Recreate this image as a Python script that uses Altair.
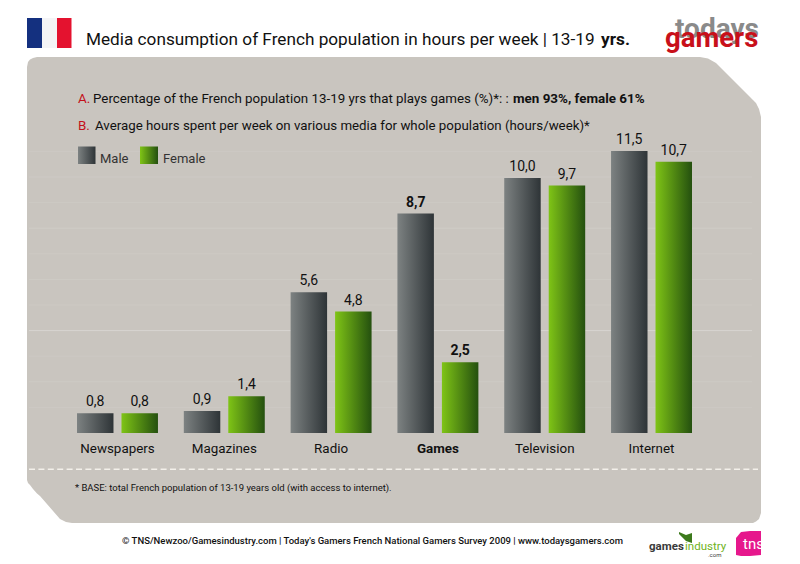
import altair as alt
import pandas as pd

FONT = "Roboto"

categories = ["Newspapers", "Magazines", "Radio", "Games", "Television", "Internet"]
male_labels = ["0,8", "0,9", "5,6", "8,7", "10,0", "11,5"]
female_labels = ["0,8", "1,4", "4,8", "2,5", "9,7", "10,7"]
# Drawn bar lengths (the original artwork is not strictly proportional to its labels)
male_lengths = [0.81, 0.90, 5.74, 8.95, 10.40, 11.50]
female_lengths = [0.81, 1.50, 4.95, 2.89, 10.09, 11.06]

panel_x = [27, 28, 30, 33, 37, 40, 60, 66, 72, 700, 708, 716, 750, 753, 756, 759, 761]
panel_top = [67, 62, 59.5, 58, 57, 57, 57, 57, 57, 57, 58.5, 63, 97, 100, 103, 109, 117]
panel_bottom = [480, 483, 485, 489, 493.5, 496, 519, 522, 523, 523, 523, 523, 523, 523, 521.5, 519, 513]

grid_y = [151.4, 177, 202.6, 228.2, 253.8, 279.4, 305, 330.6, 356.2, 381.8, 407.4]
grid_alpha = [0.08, 0.1, 0.08, 0.13, 0.08, 0.1, 0.08, 0.28, 0.08, 0.1, 0.08]

rows = []
for i, c in enumerate(categories):
    rows.append({"cat": c, "gender": "Male", "len": male_lengths[i], "label": male_labels[i]})
    rows.append({"cat": c, "gender": "Female", "len": female_lengths[i], "label": female_labels[i]})
df = pd.DataFrame(rows)

GRAY = alt.Gradient(gradient="linear", x1=0, x2=1, y1=0, y2=0,
                    stops=[alt.GradientStop(color="#7d8282", offset=0), alt.GradientStop(color="#2e3437", offset=1)])
GREEN = alt.Gradient(gradient="linear", x1=0, x2=1, y1=0, y2=0,
                     stops=[alt.GradientStop(color="#7fc416", offset=0), alt.GradientStop(color="#24500f", offset=1)])

px = alt.Scale(domain=[8, 792], range=[0, 784])
py = alt.Scale(domain=[8, 556], range=[0, 548])


def shape(xs, tops, bottoms, color):
    d = pd.DataFrame({"x": xs, "t": tops, "b": bottoms})
    return alt.Chart(d).mark_area(color=color, interpolate="linear").encode(
        x=alt.X("x:Q", scale=px, axis=None),
        y=alt.Y("t:Q", scale=py, axis=None),
        y2="b:Q",
    )


def rect(x0, x1, y0, y1, color):
    return alt.Chart(alt.Data(values=[{}])).mark_rect(color=color).encode(
        x=alt.value(x0 - 8), x2=alt.value(x1 - 8), y=alt.value(y0 - 8), y2=alt.value(y1 - 8))


def txt(s, x, y, size, color="#111111", weight="normal", align="left", font=FONT):
    return alt.Chart(alt.Data(values=[{"t": s}])).mark_text(
        align=align, baseline="alphabetic", fontSize=size, color=color, fontWeight=weight, font=font
    ).encode(x=alt.value(x - 8), y=alt.value(y - 8), text="t:N")


panel = shape(panel_x, panel_top, panel_bottom, "#c9c5bf")

grid = alt.Chart(pd.DataFrame({"y": grid_y, "a": grid_alpha})).mark_rule(color="#ffffff", strokeWidth=1).encode(
    y=alt.Y("y:Q", scale=py, axis=None),
    x=alt.value(21), x2=alt.value(744),
    opacity=alt.Opacity("a:Q", scale=None),
)

dash = alt.Chart(alt.Data(values=[{}])).mark_rule(color="#f3f0ea", strokeWidth=1.6, strokeDash=[6, 3.4]).encode(
    x=alt.value(21), x2=alt.value(750), y=alt.value(461.3))

x_enc = alt.X("cat:N", sort=categories,
              scale=alt.Scale(domain=categories, range=[69, 684], paddingInner=0.242, paddingOuter=0),
              axis=alt.Axis(title=None, domain=False, ticks=False, grid=False, labelAngle=0, labelPadding=0,
                            labelFont=FONT, labelFontSize=13.4, labelColor="#111111", labelBaseline="alphabetic",
                            labelFontWeight=alt.expr("datum.value === 'Games' ? 'bold' : 'normal'"),
                            offset=-108, zindex=1))
xo = alt.XOffset("gender:N", sort=["Male", "Female"],
                 scale=alt.Scale(domain=["Male", "Female"], paddingInner=0.18, paddingOuter=0))
y_enc = alt.Y("len:Q", scale=alt.Scale(domain=[0, 11.5], range=[425, 143]), axis=None)

base = alt.Chart(df).encode(x=x_enc, xOffset=xo, y=y_enc)
male = base.transform_filter("datum.gender === 'Male'").mark_bar(color=GRAY)
female = base.transform_filter("datum.gender === 'Female'").mark_bar(color=GREEN)
lab = base.transform_filter("datum.cat !== 'Games'").mark_text(
    baseline="alphabetic", dy=-7, fontSize=14, font=FONT, color="#111111").encode(text="label:N")
lab_b = base.transform_filter("datum.cat === 'Games'").mark_text(
    baseline="alphabetic", dy=-7, fontSize=14, font=FONT, color="#111111", fontWeight="bold").encode(text="label:N")
bars = alt.layer(male, female, lab, lab_b)

decor = [
    rect(27, 42, 18, 48, "#14307f"), rect(42, 57, 18, 48, "#f4f4f6"), rect(57, 71.5, 18, 48, "#e4122f"),
    txt("Media consumption of French population in hours per week | 13-19", 86, 45, 17.2),
    txt("yrs.", 601, 45, 17.3, weight="bold"),
    txt("A.", 78, 103, 13.4, color="#c4111b"),
    txt("Percentage of the French population 13-19 yrs that plays games (%)*: :", 93, 103, 13.35),
    txt("men 93%, female 61%", 513, 103, 13.4, weight="bold"),
    txt("B.", 78, 130, 13.4, color="#c4111b"),
    txt("Average hours spent per week on various media for whole population (hours/week)*", 95, 130, 13.3),
    rect(78, 95.5, 146.5, 164, GRAY), rect(140, 158, 146.5, 164, GREEN),
    txt("Male", 100, 162.5, 13, color="#333333"),
    txt("Female", 163, 162.5, 13, color="#333333"),
    txt("* BASE: total French population of 13-19 years old (with access to internet).", 75, 490.5, 9.5),
    txt("© TNS/Newzoo/Gamesindustry.com | Today's Gamers French National Gamers Survey 2009 | www.todaysgamers.com",
        122, 544, 9.5, weight=500),
    txt("todays", 675, 38, 28, color="#8a8a8a", weight="bold"),
    txt("gamers", 665, 47, 27.5, color="#c8101a", weight="bold"),
    shape([679, 686, 692], [532, 535, 533], [534, 541, 543], "#3c7a1c"),
    txt("games", 649, 549.5, 11.5, color="#3a3a3a", weight="bold"),
    txt("industry", 685, 549.5, 11.5, color="#6fb31c"),
    txt(".com", 708, 556.5, 6, color="#3a3a3a"),
    shape([736, 741, 750, 761], [538, 532, 531, 531], [555, 556, 556, 555], "#e6178c"),
    txt("tns", 743, 549, 15, color="#ffffff"),
]

chart = alt.layer(panel, grid, dash, bars, *decor).resolve_scale(x="independent", y="independent").properties(
    width=784, height=552, padding=0, autosize="none", background="#ffffff"
).configure_view(stroke=None)

chart.save("out.html", embed_options={"renderer": "svg", "actions": False})
